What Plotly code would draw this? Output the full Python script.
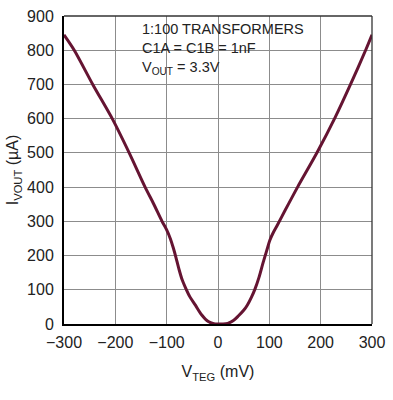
import plotly.graph_objects as go

vteg = [-300, -280, -244, -206, -173, -142, -125, -109, -100, -93, -87, -82, -76, -70, -63,
        -55, -44, -32, -19, -8, 0, 10, 19, 30, 40, 50, 57, 65, 72, 80, 88, 95, 101, 108, 116,
        130, 155, 193, 228, 259, 289, 300]
ivout = [845, 800, 700, 600, 500, 400, 350, 300, 275, 250, 222, 195, 160, 130, 105,
         80, 55, 27, 7, 1, 0, 0, 2, 10, 24, 40, 55, 78, 102, 137, 180, 215, 245, 268, 290,
         330, 400, 501, 603, 703, 805, 845]

x_ticks = [-300, -200, -100, 0, 100, 200, 300]
y_ticks = [0, 100, 200, 300, 400, 500, 600, 700, 800, 900]

FONT = "Liberation Sans, Arial, sans-serif"

fig = go.Figure()
fig.add_trace(go.Scatter(x=vteg, y=ivout, mode="lines",
                         line=dict(color="#651432", width=3, shape="spline", smoothing=0.8),
                         showlegend=False, hoverinfo="skip"))

fig.update_layout(
    width=393, height=400,
    margin=dict(l=64, r=14, t=8, b=76),
    paper_bgcolor="white", plot_bgcolor="white",
    font=dict(family=FONT, size=16, color="#222"),
    xaxis=dict(range=[-300, 300], tickvals=x_ticks,
               ticktext=[("\u2212" + str(-v)) if v < 0 else str(v) for v in x_ticks],
               showgrid=True, gridcolor="#8c8c8c", gridwidth=1, zeroline=False,
               showline=True, linecolor="black", linewidth=2, ticks="", ticklen=0,
               ticklabelstandoff=3, ticklabeloverflow="allow",
               title=dict(text="V<sub>TEG</sub> (mV)", standoff=16, font=dict(size=16))),
    yaxis=dict(range=[0, 900], tickvals=y_ticks,
               showgrid=True, gridcolor="#8c8c8c", gridwidth=1, zeroline=False,
               showline=True, linecolor="black", linewidth=2, ticks="", ticklen=0,
               ticklabelstandoff=5, ticklabeloverflow="allow",
               title=dict(text="I<sub>VOUT</sub> (\u00b5A)", standoff=4, font=dict(size=16))),
)

# top/right frame lines
fig.add_shape(type="line", xref="paper", yref="paper", x0=0, x1=1, y0=1, y1=1,
              line=dict(color="#333", width=1.3))
fig.add_shape(type="line", xref="paper", yref="paper", x0=1, x1=1, y0=0, y1=1,
              line=dict(color="#333", width=1.3))
# white label box over the grid
fig.add_shape(type="rect", xref="paper", yref="paper", x0=0.232, x1=0.759, y0=0.785, y1=0.997,
              fillcolor="white", line=dict(width=0), layer="between")

fig.add_annotation(xref="paper", yref="paper", x=0.248, y=0.99, xanchor="left", yanchor="top",
                   align="left", showarrow=False,
                   text="1:100 TRANSFORMERS<br>C1A = C1B = 1nF<br>V<sub>OUT</sub> = 3.3V",
                   font=dict(family=FONT, size=14.5, color="#222"))

fig.write_html("out.html")
